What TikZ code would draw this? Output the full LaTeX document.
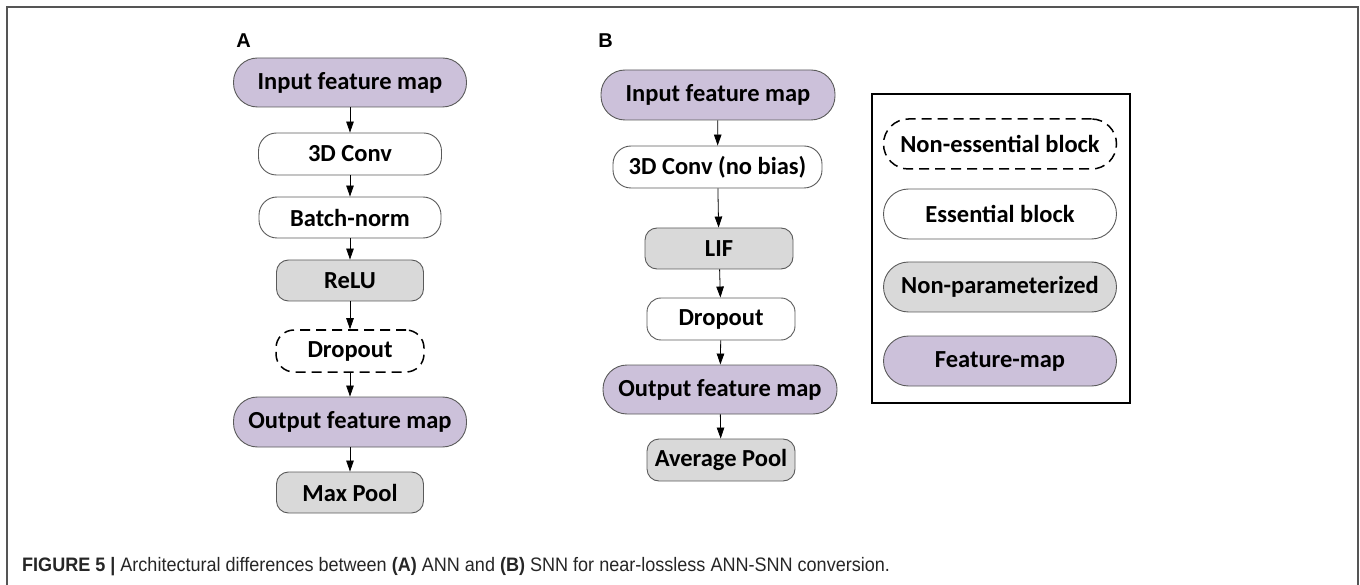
\documentclass[tikz,border=0pt]{standalone}
\usepackage{fontspec}
\setmainfont{Carlito}
\newfontfamily\capfont{Liberation Sans}
\usetikzlibrary{arrows.meta}

\definecolor{featpurple}{HTML}{CCC1DA}
\definecolor{blockgray}{HTML}{D9D9D9}
\definecolor{edgegray}{HTML}{5A5A5A}
\definecolor{framegray}{HTML}{555555}

\begin{document}
\begin{tikzpicture}[x=1pt,y=-1pt,
  blk/.style={draw=edgegray,line width=0.9pt,inner sep=0pt,
    font=\fontsize{24.5}{28}\selectfont\bfseries},
  feat/.style={blk,fill=featpurple,rounded corners=24pt,
    minimum width=233pt,minimum height=49pt},
  ess/.style={blk,fill=white,rounded corners=18pt,minimum height=42pt},
  nonpar/.style={blk,fill=blockgray,rounded corners=12pt,
    minimum width=147pt,minimum height=41pt},
  noness/.style={ess,draw=black,line width=1.5pt,
    dash pattern=on 10pt off 6pt},
  legend/.style={minimum width=233pt,minimum height=50pt,rounded corners=25pt},
  flow/.style={-{Triangle[length=11pt,width=7.5pt]},line width=0.8pt},
  panel/.style={font=\capfont\fontsize{20}{24}\selectfont\bfseries}]

\useasboundingbox (0,0) rectangle (1360,585);
\draw[framegray,line width=1.5pt] (7,585) -- (7,7) -- (1358,7) -- (1358,585);

% (A) ANN
\node[panel] (labA) at (243.5,40.5) {A};
\node[feat] (inA) at (350,82.5) {Input feature map};
\node[ess,minimum width=183pt] (convA) at (350,154) {3D Conv};
\node[ess,minimum width=182pt,minimum height=41pt] (bnA) at (350,217.5) {Batch-norm};
\node[nonpar] (reluA) at (350,280.5) {ReLU};
\node[noness,minimum width=148pt] (dropA) at (350,351) {Dropout};
\node[feat,minimum height=50pt] (outA) at (350,422) {Output feature map};
\node[nonpar] (poolA) at (350,492.5) {Max Pool};

\draw[flow] (inA) -- (convA);
\draw[flow] (convA) -- (bnA);
\draw[flow] (bnA) -- (reluA);
\draw[flow] (reluA) -- (dropA);
\draw[flow] (dropA) -- (outA);
\draw[flow] (outA) -- (poolA);

% (B) SNN
\node[panel] (labB) at (605.5,40.5) {B};
\node[feat,minimum width=234pt,minimum height=50pt] (inB) at (718,95) {Input feature map};
\node[ess,minimum width=209pt] (convB) at (717.5,167) {3D Conv (no bias)};
\node[nonpar,minimum width=148pt] (lifB) at (719,248.5) {LIF};
\node[ess,minimum width=148pt,rounded corners=14pt] (dropB) at (721,319) {Dropout};
\node[feat,minimum width=234pt] (outB) at (720,389.5) {Output feature map};
\node[nonpar,minimum width=148pt,minimum height=42pt] (poolB) at (721,460) {Average Pool};

\draw[flow] (inB) -- (convB);
\draw[flow] (convB) -- (lifB);
\draw[flow] (lifB) -- (dropB);
\draw[flow] (dropB) -- (outB);
\draw[flow] (outB) -- (poolB);

% legend
\draw[line width=1.8pt] (872,94) rectangle (1130,403);
\node[noness,legend] (keyNon) at (1000,144) {Non-essential block};
\node[ess,legend] (keyEss) at (1000,214) {Essential block};
\node[nonpar,legend] (keyPar) at (1000,287) {Non-parameterized};
\node[feat,legend] (keyMap) at (1000,361) {Feature-map};

% caption
\node[anchor=base west,inner sep=0pt,xscale=0.925,
  font=\capfont\fontsize{19.5}{22}\selectfont,text=black!85] (cap) at (22,571.5)
  {\textbf{FIGURE 5 |} Architectural differences between \textbf{(A)} ANN and
   \textbf{(B)} SNN for near-lossless ANN-SNN conversion.};

\end{tikzpicture}
\end{document}
